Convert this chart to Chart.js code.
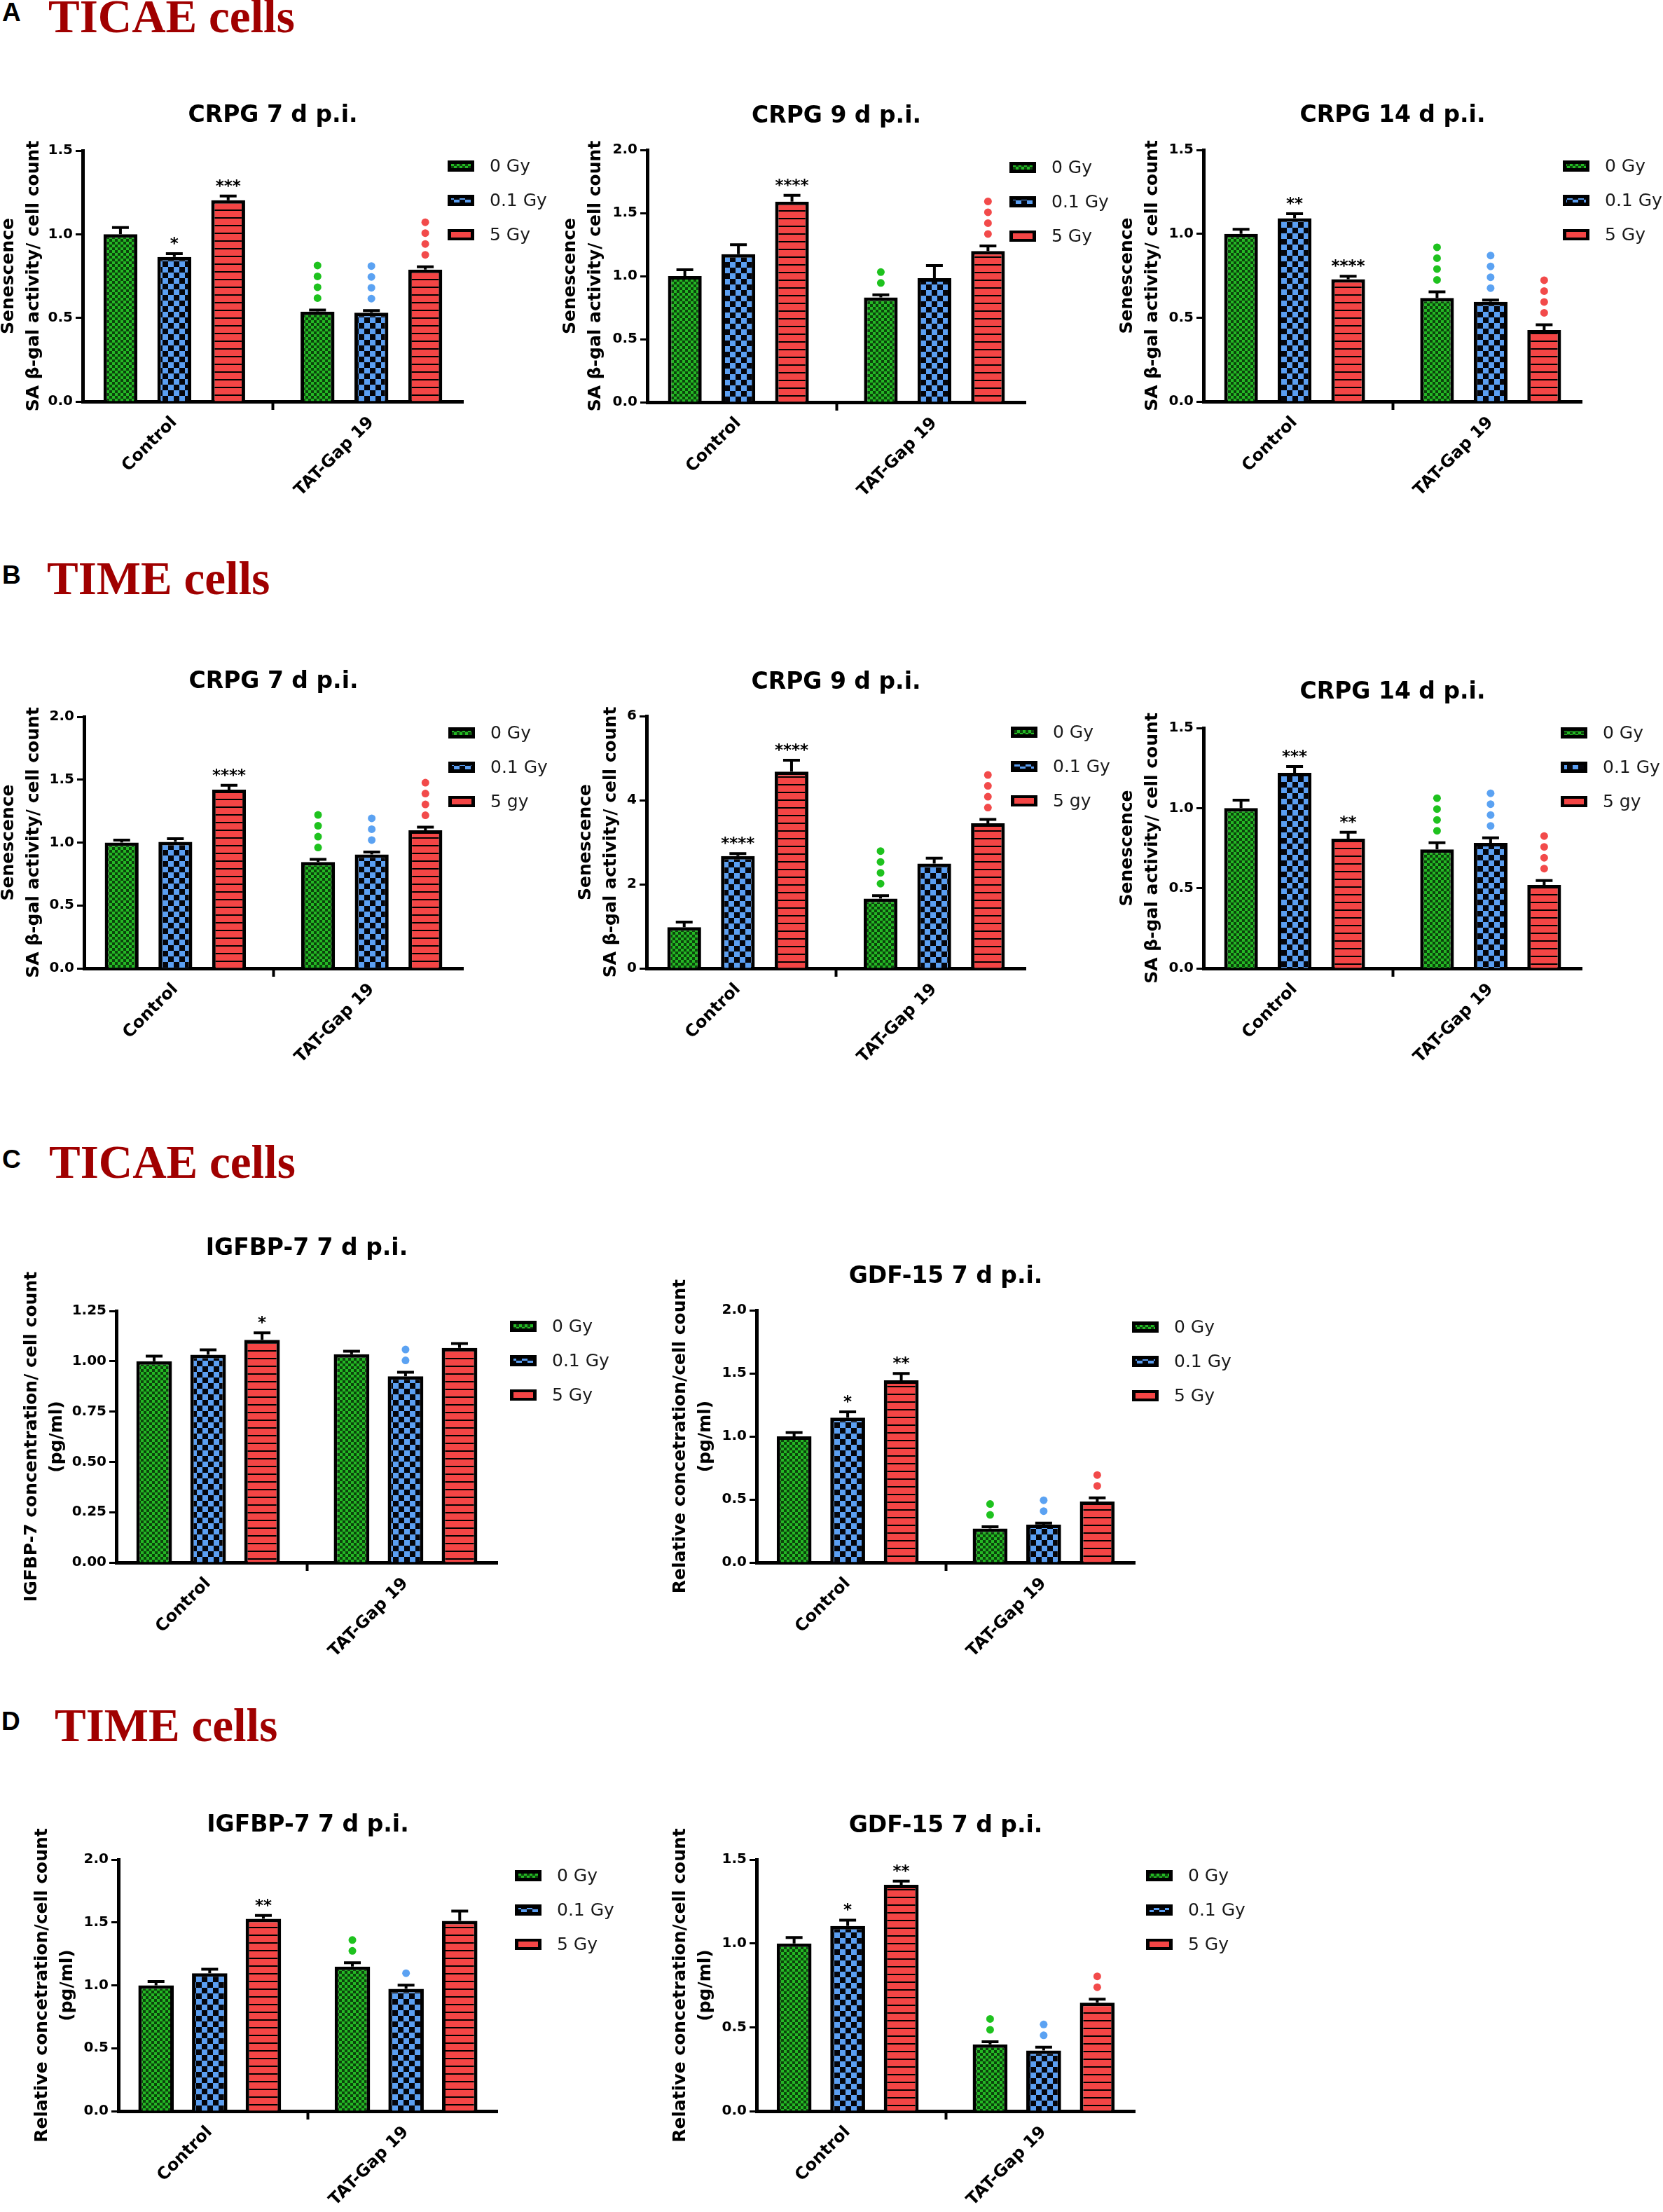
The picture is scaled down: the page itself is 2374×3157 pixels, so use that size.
<!DOCTYPE html>
<html><head><meta charset="utf-8">
<script src="https://cdn.jsdelivr.net/npm/chart.js@4/dist/chart.umd.min.js"></script>
<style>
html,body{margin:0;padding:0;background:#fff;}
body{width:2374px;height:3157px;overflow:hidden;position:relative;}
canvas{position:absolute;}
.letter{position:absolute;font-family:'Liberation Sans',Arial,sans-serif;font-weight:bold;font-size:37px;line-height:1;color:#000;}
.cells{position:absolute;font-family:'Liberation Serif','Times New Roman',serif;font-weight:bold;font-size:67px;line-height:1;color:#a00000;white-space:nowrap;}
</style></head><body>
<div class="letter" style="left:3px;top:-1px">A</div>
<div class="cells" style="left:69px;top:-10px">TICAE cells</div>
<div class="letter" style="left:3px;top:802px">B</div>
<div class="cells" style="left:67px;top:792px">TIME cells</div>
<div class="letter" style="left:3px;top:1636px">C</div>
<div class="cells" style="left:70px;top:1625px">TICAE cells</div>
<div class="letter" style="left:2px;top:2438px">D</div>
<div class="cells" style="left:78px;top:2429px">TIME cells</div>
<script>
// ---------- data ----------
const categories = ['Control', 'TAT-Gap 19'];
const doseLabels = ['0 Gy', '0.1 Gy', '5 Gy'];
const doseLabelsTime = ['0 Gy', '0.1 Gy', '5 gy'];
const senescenceTitle = ['Senescence', 'SA \u03b2-gal activity/ cell count'];
const igfbpTicaeTitle = ['IGFBP-7 concentration/ cell count', '(pg/ml)'];
const relativeTitle = ['Relative concetration/cell count', '(pg/ml)'];

// values per dose [Control, TAT-Gap 19]
const A1_values = [[1.00, 0.537], [0.864, 0.531], [1.204, 0.789]];
const A1_errors = [[0.04, 0.01], [0.02, 0.013], [0.025, 0.017]];
const A1_stars  = [['', ''], ['*', ''], ['***', '']];
const A1_dots   = [[0, 4], [0, 4], [0, 4]];

const A2_values = [[1.00, 0.831], [1.173, 0.984], [1.59, 1.199]];
const A2_errors = [[0.05, 0.02], [0.075, 0.1], [0.05, 0.04]];
const A2_stars  = [['', ''], ['', ''], ['****', '']];
const A2_dots   = [[0, 2], [0, 0], [0, 4]];

const A3_values = [[1.00, 0.617], [1.093, 0.594], [0.729, 0.426]];
const A3_errors = [[0.027, 0.037], [0.027, 0.011], [0.018, 0.032]];
const A3_stars  = [['', ''], ['**', ''], ['****', '']];
const A3_dots   = [[0, 4], [0, 4], [0, 4]];

const B1_values = [[1.00, 0.846], [1.005, 0.905], [1.42, 1.097]];
const B1_errors = [[0.02, 0.02], [0.025, 0.02], [0.035, 0.025]];
const B1_stars  = [['', ''], ['', ''], ['****', '']];
const B1_dots   = [[0, 4], [0, 3], [0, 4]];

const B2_values = [[0.98, 1.66], [2.67, 2.49], [4.68, 3.45]];
const B2_errors = [[0.12, 0.07], [0.06, 0.13], [0.27, 0.09]];
const B2_stars  = [['', ''], ['****', ''], ['****', '']];
const B2_dots   = [[0, 4], [0, 0], [0, 4]];

const B3_values = [[1.00, 0.742], [1.22, 0.783], [0.809, 0.52]];
const B3_errors = [[0.05, 0.042], [0.04, 0.032], [0.04, 0.028]];
const B3_stars  = [['', ''], ['***', ''], ['**', '']];
const B3_dots   = [[0, 4], [0, 4], [0, 4]];

const C1_values = [[1.00, 1.035], [1.032, 0.925], [1.106, 1.066]];
const C1_errors = [[0.025, 0.015], [0.025, 0.02], [0.035, 0.022]];
const C1_stars  = [['', ''], ['', ''], ['*', '']];
const C1_dots   = [[0, 0], [0, 2], [0, 0]];

const C2_values = [[1.00, 0.27], [1.149, 0.30], [1.444, 0.483]];
const C2_errors = [[0.03, 0.013], [0.045, 0.013], [0.055, 0.03]];
const C2_stars  = [['', ''], ['*', ''], ['**', '']];
const C2_dots   = [[0, 2], [0, 2], [0, 2]];

const D1_values = [[1.00, 1.149], [1.096, 0.972], [1.529, 1.513]];
const D1_errors = [[0.03, 0.03], [0.032, 0.03], [0.027, 0.078]];
const D1_stars  = [['', ''], ['', ''], ['**', '']];
const D1_dots   = [[0, 2], [0, 1], [0, 0]];

const D2_values = [[1.00, 0.398], [1.104, 0.361], [1.35, 0.647]];
const D2_errors = [[0.035, 0.016], [0.035, 0.02], [0.022, 0.021]];
const D2_stars  = [['', ''], ['*', ''], ['**', '']];
const D2_dots   = [[0, 2], [0, 2], [0, 2]];

const chartTitles = ['CRPG 7 d p.i.', 'CRPG 9 d p.i.', 'CRPG 14 d p.i.',
                     'CRPG 7 d p.i.', 'CRPG 9 d p.i.', 'CRPG 14 d p.i.',
                     'IGFBP-7 7 d p.i.', 'GDF-15 7 d p.i.',
                     'IGFBP-7 7 d p.i.', 'GDF-15 7 d p.i.'];
const yMax  = [1.5, 2.0, 1.5, 2.0, 6, 1.5, 1.25, 2.0, 2.0, 1.5];
const yStep = [0.5, 0.5, 0.5, 0.5, 2, 0.5, 0.25, 0.5, 0.5, 0.5];
const yDec  = [1, 1, 1, 1, 0, 1, 2, 1, 1, 1];

// ---------- layout (page pixels) ----------
const layouts = [
  {axisX:118, top:215, bottom:573, right:661, line1X:12, titleY:165, legX:639, legY:237},
  {axisX:924, top:214, bottom:574, right:1464, line1X:814, titleY:166, legX:1441, legY:239},
  {axisX:1718, top:214, bottom:573, right:2258, line1X:1609, titleY:165, legX:2231, legY:237},
  {axisX:120, top:1023, bottom:1382, right:661, line1X:12, titleY:973, legX:640, legY:1046},
  {axisX:923, top:1022, bottom:1382, right:1464, line1X:836, titleY:974, legX:1443, legY:1045},
  {axisX:1718, top:1039, bottom:1382, right:2258, line1X:1609, titleY:988, legX:2228, legY:1046},
  {axisX:166, top:1871, bottom:2230, right:710, line1X:45, titleY:1782, legX:728, legY:1893},
  {axisX:1080, top:1870, bottom:2230, right:1620, line1X:971, titleY:1822, legX:1616, legY:1894},
  {axisX:169, top:2654, bottom:3013, right:710, line1X:60, titleY:2605, legX:735, legY:2677},
  {axisX:1080, top:2654, bottom:3013, right:1620, line1X:971, titleY:2606, legX:1636, legY:2677}
];

const panels = [
  {values:A1_values, errors:A1_errors, stars:A1_stars, dots:A1_dots, yTitle:senescenceTitle, legend:doseLabels, barPct:0.63},
  {values:A2_values, errors:A2_errors, stars:A2_stars, dots:A2_dots, yTitle:senescenceTitle, legend:doseLabels, barPct:0.63},
  {values:A3_values, errors:A3_errors, stars:A3_stars, dots:A3_dots, yTitle:senescenceTitle, legend:doseLabels, barPct:0.63},
  {values:B1_values, errors:B1_errors, stars:B1_stars, dots:B1_dots, yTitle:senescenceTitle, legend:doseLabelsTime, barPct:0.63},
  {values:B2_values, errors:B2_errors, stars:B2_stars, dots:B2_dots, yTitle:senescenceTitle, legend:doseLabelsTime, barPct:0.63},
  {values:B3_values, errors:B3_errors, stars:B3_stars, dots:B3_dots, yTitle:senescenceTitle, legend:doseLabelsTime, barPct:0.63},
  {values:C1_values, errors:C1_errors, stars:C1_stars, dots:C1_dots, yTitle:igfbpTicaeTitle, legend:doseLabels, barPct:0.66},
  {values:C2_values, errors:C2_errors, stars:C2_stars, dots:C2_dots, yTitle:relativeTitle, legend:doseLabels, barPct:0.65},
  {values:D1_values, errors:D1_errors, stars:D1_stars, dots:D1_dots, yTitle:relativeTitle, legend:doseLabels, barPct:0.66},
  {values:D2_values, errors:D2_errors, stars:D2_stars, dots:D2_dots, yTitle:relativeTitle, legend:doseLabels, barPct:0.65}
];

const dotColors = ['#1ec21e', '#5ba2f2', '#f24a4a'];

Chart.defaults.font.family = "'DejaVu Sans', Verdana, sans-serif";
Chart.defaults.color = '#000';

function makePattern(ctx, kind) {
  const c = document.createElement('canvas');
  const x = c.getContext('2d');
  if (kind === 0) {
    c.width = c.height = 8;
    x.fillStyle = '#0c440c'; x.fillRect(0, 0, 8, 8);
    x.fillStyle = '#24b824'; x.fillRect(0, 0, 4, 4); x.fillRect(4, 4, 4, 4);
  } else if (kind === 1) {
    c.width = c.height = 16;
    x.fillStyle = '#05060c'; x.fillRect(0, 0, 16, 16);
    x.fillStyle = '#5b9ff2'; x.fillRect(0, 0, 8, 8); x.fillRect(8, 8, 8, 8);
  } else {
    c.width = 4; c.height = 11;
    x.fillStyle = '#f44545'; x.fillRect(0, 0, 4, 11);
    x.fillStyle = '#000'; x.fillRect(0, 9, 4, 2);
  }
  return ctx.createPattern(c, 'repeat');
}

const panelPlugin = {
  id: 'panel',
  afterDatasetsDraw(chart, args, opts) {
    const ctx = chart.ctx, ys = chart.scales.y;
    chart.data.datasets.forEach((ds, di) => {
      const meta = chart.getDatasetMeta(di);
      meta.data.forEach((bar, ci) => {
        const v = ds.data[ci].y;
        const capY = ys.getPixelForValue(v + ds.errors[ci]);
        ctx.save();
        ctx.strokeStyle = '#000'; ctx.lineWidth = 4;
        ctx.beginPath();
        ctx.moveTo(bar.x, bar.y); ctx.lineTo(bar.x, capY);
        ctx.moveTo(bar.x - 12, capY); ctx.lineTo(bar.x + 12, capY);
        ctx.stroke();
        const s = ds.stars[ci];
        if (s) {
          ctx.fillStyle = '#000';
          ctx.font = "bold 23px 'DejaVu Sans'";
          ctx.textAlign = 'center'; ctx.textBaseline = 'alphabetic';
          ctx.fillText(s, bar.x, capY - 7);
        }
        const n = ds.dots[ci];
        ctx.fillStyle = ds.dotColor;
        for (let k = 0; k < n; k++) {
          ctx.beginPath();
          ctx.arc(bar.x, capY - 17 - k * 15.5, 5.5, 0, Math.PI * 2);
          ctx.fill();
        }
        ctx.restore();
      });
    });
  },
  afterDraw(chart, args, opts) {
    const ctx = chart.ctx, ca = chart.chartArea;
    ctx.save();
    ctx.fillStyle = '#000';
    ctx.font = "bold 33px 'DejaVu Sans'";
    ctx.textAlign = 'center'; ctx.textBaseline = 'middle';
    ctx.fillText(opts.title, (ca.left + ca.right) / 2, opts.titleY);
    chart.data.datasets.forEach((ds, di) => {
      const bx = opts.legX, by = opts.legY + di * 49;
      ctx.fillStyle = '#000';
      ctx.fillRect(bx, by - 8, 38, 16);
      ctx.fillStyle = ds.legendFill;
      if (di === 2) ctx.fillRect(bx + 5, by - 4, 28, 8);
      else ctx.fillRect(bx + 5, by - 3, 28, 6);
      ctx.fillStyle = '#1a1a1a';
      ctx.font = "25px 'DejaVu Sans'";
      ctx.textAlign = 'left'; ctx.textBaseline = 'middle';
      ctx.fillText(ds.label, bx + 60, by + 1);
    });
    ctx.restore();
  }
};

layouts.forEach((sp, i) => {
  const d = panels[i];
  const L = sp.line1X - 20, T = sp.titleY - 40;
  const W = sp.right + 200 - L, H = sp.bottom + 150 - T;
  const cv = document.createElement('canvas');
  cv.width = W; cv.height = H;
  cv.style.left = L + 'px'; cv.style.top = T + 'px';
  cv.style.width = W + 'px'; cv.style.height = H + 'px';
  document.body.appendChild(cv);
  const ctx = cv.getContext('2d');
  const fills = [makePattern(ctx, 0), makePattern(ctx, 1), makePattern(ctx, 2)];
  const legendFills = [fills[0], fills[1], '#f44545'];
  const datasets = d.values.map((vals, di) => ({
    label: d.legend[di],
    data: vals.map((v, ci) => ({x: ci, y: v})),
    errors: d.errors[di],
    stars: d.stars[di],
    dots: d.dots[di],
    dotColor: dotColors[di],
    legendFill: legendFills[di],
    backgroundColor: fills[di],
    borderColor: '#000',
    borderWidth: 5,
    borderSkipped: 'start',
    barPercentage: d.barPct,
    categoryPercentage: 0.82
  }));
  const dec = yDec[i];
  new Chart(ctx, {
    type: 'bar',
    data: {datasets},
    options: {
      responsive: false,
      animation: false,
      devicePixelRatio: 1,
      layout: {padding: {left: 0, top: sp.top - T, right: L + W - sp.right, bottom: 0}},
      plugins: {
        legend: {display: false},
        title: {display: false},
        tooltip: {enabled: false},
        panel: {title: chartTitles[i], titleY: sp.titleY - T, legX: sp.legX - L, legY: sp.legY - T}
      },
      scales: {
        x: {
          type: 'linear', min: -0.465, max: 1.465, offset: false,
          ticks: {
            stepSize: 1, includeBounds: false, autoSkip: false,
            minRotation: 45, maxRotation: 45, padding: 4, color: '#000',
            font: {size: 24, weight: 'bold'},
            callback: (v) => (Number.isInteger(v) && categories[v]) ? categories[v] : ''
          },
          grid: {display: true, drawOnChartArea: false, drawTicks: true, tickLength: 12, tickWidth: 4, tickColor: '#000', color: '#000'},
          border: {display: true, color: '#000', width: 5},
          afterFit: (s) => { s.height = 150; }
        },
        y: {
          min: 0, max: yMax[i],
          ticks: {stepSize: yStep[i], color: '#000', padding: 4, font: {size: 20, weight: 'bold'},
                  callback: (v) => Number(v).toFixed(dec)},
          grid: {display: true, drawOnChartArea: false, drawTicks: true, tickLength: 10, tickWidth: 3, tickColor: '#000', color: '#000'},
          border: {display: true, color: '#000', width: 5},
          title: {display: true, text: d.yTitle, color: '#000', font: {size: 25, weight: 'bold', lineHeight: 1.44}, padding: {top: 2, bottom: 0}},
          afterFit: (s) => { s.width = sp.axisX - L; }
        }
      }
    },
    plugins: [panelPlugin]
  });
});
</script>
</body></html>
